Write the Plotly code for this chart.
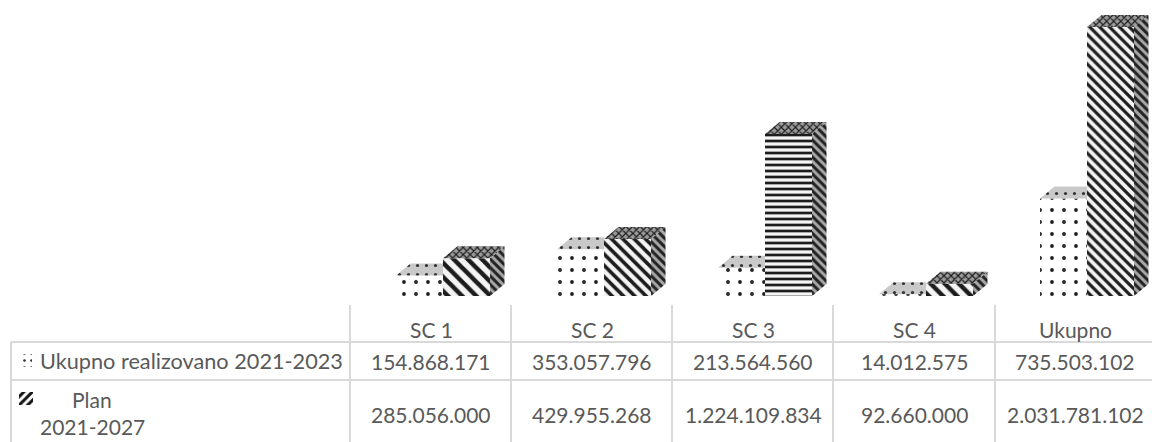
import plotly.graph_objects as go

categories = ["SC 1", "SC 2", "SC 3", "SC 4", "Ukupno"]
realized = [154868171, 353057796, 213564560, 14012575, 735503102]
plan = [285056000, 429955268, 1224109834, 92660000, 2031781102]
realized_labels = ["154.868.171", "353.057.796", "213.564.560", "14.012.575", "735.503.102"]
plan_labels = ["285.056.000", "429.955.268", "1.224.109.834", "92.660.000", "2.031.781.102"]
series_names = ["Ukupno realizovano 2021-2023", "Plan", "2021-2027"]

W, H = 1152, 442
PLOT_L, PLOT_B = 350, 296
CAT0_PX, CAT_STEP = 443, 161
BAR_PX = 47
DX_PX, DY_PX = 14.5, 12
UNITS_PER_PX = 2031781102 / 269.0

xr = [(PLOT_L - CAT0_PX) / CAT_STEP, (W - CAT0_PX) / CAT_STEP]
yr = [0, PLOT_B * UNITS_PER_PX]
bw = BAR_PX / CAT_STEP
dx = DX_PX / CAT_STEP
dy = DY_PX * UNITS_PER_PX
xs = list(range(len(categories)))

plan_shapes = ["\\", "\\", "-", "\\", "\\"]
plan_sizes = [10, 8, 6, 10, 7]

fig = go.Figure()
fig.add_bar(x=xs, y=realized, width=bw, offset=-bw, name="Ukupno realizovano 2021-2023",
            marker=dict(color="white", line_width=0,
                        pattern=dict(shape=".", size=12, solidity=0.08, fgcolor="#222222",
                                     bgcolor="white", fgopacity=1)))
fig.add_bar(x=xs, y=plan, width=bw, offset=0, name="Plan 2021-2027",
            marker=dict(color="white", line_width=0,
                        pattern=dict(shape=plan_shapes, size=plan_sizes, solidity=0.45,
                                     fgcolor="#1c1c1c", bgcolor="#f4f4f4", fgopacity=1)))


def poly_trace(px, py, pattern, name, **axes):
    fig.add_scatter(x=px, y=py, mode="lines", fill="toself", line=dict(width=0),
                    fillcolor=pattern["bgcolor"], fillpattern=pattern, hoverinfo="skip",
                    showlegend=False, name=name, **axes)


# top of the realized boxes: cut where the taller plan box begins
px, py = [], []
for i, v in zip(xs, realized):
    px += [i - bw, i - bw + dx, i, i, i - bw, None]
    py += [v, v + dy, v + dy, v, v, None]
poly_trace(px, py, dict(shape=".", size=9, solidity=0.1, fgcolor="#333333", bgcolor="#c9c9c9", fgopacity=1), "realized top")

# side of the plan boxes
px, py = [], []
for i, v in zip(xs, plan):
    px += [i + bw, i + bw + dx, i + bw + dx, i + bw, i + bw, None]
    py += [0, dy, v + dy, v, 0, None]
poly_trace(px, py, dict(shape="\\", size=6, solidity=0.5, fgcolor="#222222", bgcolor="#a8a8a8", fgopacity=1), "plan side")

# top of the plan boxes
px, py = [], []
for i, v in zip(xs, plan):
    px += [i, i + dx, i + bw + dx, i + bw, i, None]
    py += [v, v + dy, v + dy, v, v, None]
poly_trace(px, py, dict(shape="x", size=5, solidity=0.4, fgcolor="#1c1c1c", bgcolor="#9a9a9a", fgopacity=1), "plan top")

fig.update_layout(
    width=W, height=H, margin=dict(l=0, r=0, t=0, b=0),
    paper_bgcolor="white", plot_bgcolor="rgba(0,0,0,0)", showlegend=False, barmode="overlay",
    xaxis=dict(domain=[PLOT_L / W, 1], range=xr, visible=False, fixedrange=True),
    yaxis=dict(domain=[(H - PLOT_B) / H, 1], range=yr, visible=False, fixedrange=True),
    xaxis2=dict(domain=[0, 1], range=[0, W], visible=False, fixedrange=True, anchor="y2"),
    yaxis2=dict(domain=[0, 1], range=[H, 0], visible=False, fixedrange=True, anchor="x2"),
)

# legend keys inside the table
keys = [
    (20, 354, 12, 13, dict(shape=".", size=7, solidity=0.12, fgcolor="#333333", bgcolor="white", fgopacity=1)),
    (19, 392, 14, 13, dict(shape="/", size=6, solidity=0.5, fgcolor="#111111", bgcolor="white", fgopacity=1)),
]
for kx, ky, kw, kh, pat in keys:
    poly_trace([kx, kx + kw, kx + kw, kx, kx], [ky, ky, ky + kh, ky + kh, ky], pat, "key",
               xaxis="x2", yaxis="y2")

# table
GRID = "#d9d9d9"
col_edges = [350, 511, 672, 833, 995]
col_centers = [431, 592, 753, 914, 1075]
row_y = [342, 380]


def line(x0, y0, x1, y1):
    fig.add_shape(type="line", xref="paper", yref="paper", x0=x0 / W, x1=x1 / W,
                  y0=1 - y0 / H, y1=1 - y1 / H, line=dict(color=GRID, width=2))


for y in row_y:
    line(11, y, W, y)
line(11, 342, 11, H)
for x in col_edges:
    line(x, 305, x, H)


def text(x, y, s, anchor="center", size=21):
    fig.add_annotation(xref="paper", yref="paper", x=x / W, y=1 - y / H, text=s, showarrow=False,
                       xanchor=anchor, yanchor="middle", align="left",
                       font=dict(family="Lato, Carlito, sans-serif", size=size, color="#595959"))


for c, cat, a, b in zip(col_centers, categories, realized_labels, plan_labels):
    text(c, 329, cat)
    text(c, 361, a)
    text(c, 414, b)
text(38, 361, series_names[0], "left", 21.7)
text(70, 399, series_names[1], "left")
text(38, 426, series_names[2], "left")

fig.write_html("out.html", config=dict(displayModeBar=False),
               post_script="document.body.style.margin='0';document.body.style.overflow='hidden';")
